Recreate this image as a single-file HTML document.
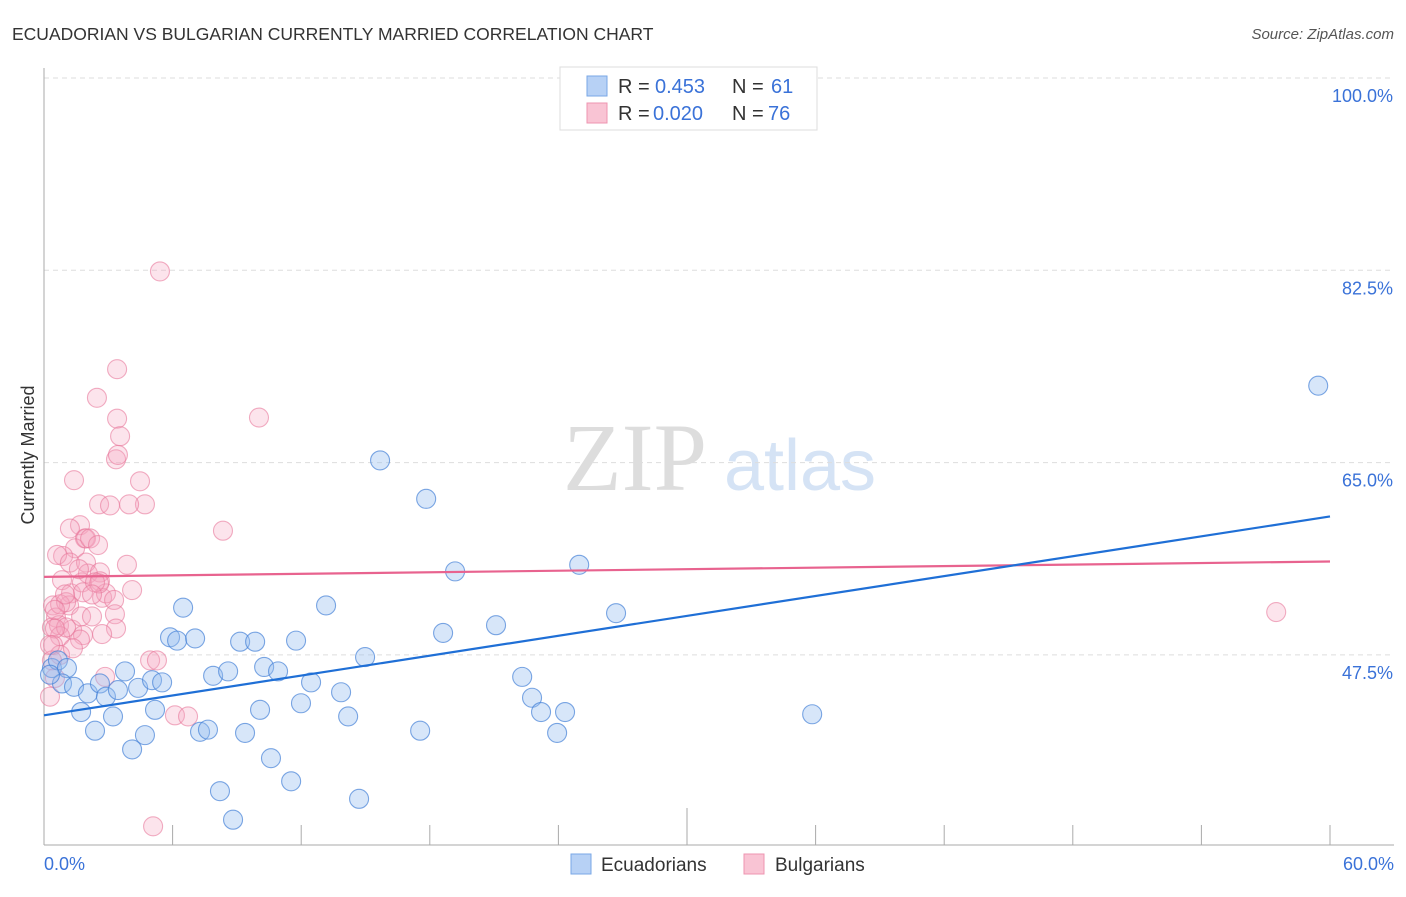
<!DOCTYPE html>
<html><head><meta charset="utf-8"><style>
body{margin:0;background:#fff;font-family:"Liberation Sans",sans-serif}
</style></head><body>
<svg id="c" width="1406" height="892" xmlns="http://www.w3.org/2000/svg">
<text x="12" y="40" font-size="17.5" fill="#333">ECUADORIAN VS BULGARIAN CURRENTLY MARRIED CORRELATION CHART</text>
<text x="1394" y="39" font-size="15" fill="#555" font-style="italic" text-anchor="end">Source: ZipAtlas.com</text>
<text x="34" y="455" font-size="18" fill="#333" text-anchor="middle" transform="rotate(-90 34 455)">Currently Married</text>
<g><text x="635" y="490" font-size="96" fill="#ddd" font-family="Liberation Serif" text-anchor="middle">ZIP</text><text x="800" y="490" font-size="72" fill="#d5e3f5" text-anchor="middle">atlas</text></g>
<g id="grid"></g><g id="axes"></g><g id="lines"></g><g id="pts"></g>
<g>
<rect x="560" y="67" width="257" height="63" fill="#fff" stroke="#ddd"/>
<rect x="587" y="76" width="20" height="20" fill="#b7d1f5" stroke="#7aa7e6"/>
<rect x="587" y="103" width="20" height="20" fill="#f9c4d4" stroke="#ee94b0"/>
<text x="618" y="93" font-size="20" fill="#333">R =</text><text x="655" y="93" font-size="20" fill="#3a72d8">0.453</text>
<text x="732" y="93" font-size="20" fill="#333">N =</text><text x="771" y="93" font-size="20" fill="#3a72d8">61</text>
<text x="618" y="120" font-size="20" fill="#333">R =</text><text x="653" y="120" font-size="20" fill="#3a72d8">0.020</text>
<text x="732" y="120" font-size="20" fill="#333">N =</text><text x="768" y="120" font-size="20" fill="#3a72d8">76</text>
</g>
<g>
<rect x="571" y="854" width="20" height="20" fill="#b7d1f5" stroke="#7aa7e6"/>
<text x="601" y="871" font-size="19" fill="#333">Ecuadorians</text>
<rect x="744" y="854" width="20" height="20" fill="#f9c4d4" stroke="#ee94b0"/>
<text x="775" y="871" font-size="19" fill="#333">Bulgarians</text>
</g>
</svg>
<script>
const yTicks=[100,82.5,65,47.5];
const yTickLabels=["100.0%","82.5%","65.0%","47.5%"];
const xTickCount=10;
const blueX=[0.37,0.65,1.07,0.84,1.40,1.73,2.05,2.38,2.61,2.89,3.22,3.45,3.78,4.11,4.39,4.71,5.04,5.18,5.51,5.88,6.21,6.49,7.05,7.28,7.65,7.89,8.21,8.59,8.82,9.15,9.38,9.85,10.08,10.27,10.59,10.92,11.53,11.76,11.99,12.46,13.16,13.86,14.19,14.70,14.98,15.68,17.55,17.83,18.62,19.18,21.09,22.31,22.77,23.19,23.94,24.31,24.97,26.69,35.84,59.45,0.28];
const blueY=[46.3,47.0,46.3,44.9,44.6,42.3,44.0,40.6,44.9,43.7,41.9,44.3,46.0,38.9,44.5,40.2,45.2,42.5,45.0,49.1,48.8,51.8,49.0,40.5,40.7,45.6,35.1,46.0,32.5,48.7,40.4,48.7,42.5,46.4,38.1,46.0,36.0,48.8,43.1,45.0,52.0,44.1,41.9,34.4,47.3,65.2,40.6,61.7,49.5,55.1,50.2,45.5,43.6,42.3,40.4,42.3,55.7,51.3,42.1,72.0,45.7];
const pinkX=[3.41,2.47,3.41,3.55,3.36,3.45,1.40,4.48,2.57,4.71,3.97,1.68,1.21,1.91,1.45,1.96,2.15,0.89,0.61,1.21,1.96,0.84,2.05,2.61,3.87,1.26,1.77,2.61,4.11,1.17,0.42,0.56,1.82,2.71,2.89,0.37,0.70,1.31,1.73,2.24,3.27,3.31,0.75,1.03,0.51,3.36,2.71,1.82,0.42,0.75,0.37,0.51,0.28,2.85,4.95,5.27,6.11,6.72,5.09,5.41,10.03,8.35,57.49,0.75,1.03,2.57,2.38,1.63,1.68,1.35,3.08,0.98,2.24,2.52,0.51,0.28];
const pinkY=[73.5,70.9,69.0,67.4,65.3,65.7,63.4,63.3,61.2,61.2,61.2,59.3,59.0,58.1,57.2,58.1,58.1,56.5,56.6,55.9,55.9,54.3,54.9,55.0,55.7,53.1,54.1,54.2,53.4,52.0,52.0,50.9,53.2,52.7,53.1,50.0,50.2,49.8,51.0,51.0,52.5,51.2,49.2,50.0,49.9,49.9,49.4,49.3,48.4,47.5,47.0,45.4,43.7,45.5,47.0,47.0,42.0,41.9,31.9,82.4,69.1,58.8,51.4,52.1,52.3,54.0,54.1,55.3,48.9,48.1,61.1,53.0,53.0,57.5,51.6,48.4];
const blueTrend=[42.0,60.1];
const pinkTrend=[54.6,56.0];
const NS="http://www.w3.org/2000/svg";
const X=v=>44+v*(1286/60), Y=v=>78+(100-v)*(192.3/17.5);
function mk(t,a,p){const e=document.createElementNS(NS,t);for(const k in a)e.setAttribute(k,a[k]);p.appendChild(e);return e;}
const grid=document.getElementById('grid'),axes=document.getElementById('axes'),lines=document.getElementById('lines'),pts=document.getElementById('pts');
yTicks.forEach((v,i)=>{
 const l=mk('line',{x1:44,x2:1394,y1:Y(v),y2:Y(v),stroke:'#ddd','stroke-dasharray':'5,4'},grid);
 
 
 const t=mk('text',{x:1393,y:Y(v)+24,'font-size':18,fill:'#3a72d8','text-anchor':'end'},axes);
 t.textContent=yTickLabels[i];
 
 
});
let a=mk('line',{x1:44,x2:44,y1:68,y2:845,stroke:'#aaa'},axes);


a=mk('line',{x1:44,x2:1394,y1:845,y2:845,stroke:'#aaa'},axes);


for(let i=1;i<=xTickCount;i++){
 const x=X(i*6);
 const tk=mk('line',{x1:x,x2:x,y1:i==5?808:825,y2:845,stroke:'#aaa'},axes);
 
 
}
let t=mk('text',{x:44,y:870,'font-size':18,fill:'#3a72d8'},axes);t.textContent='0.0%';


t=mk('text',{x:1394,y:870,'font-size':18,fill:'#3a72d8','text-anchor':'end'},axes);t.textContent='60.0%';


function series(xs,ys,fill,stroke,name){
 xs.forEach((x,i)=>{
  const c=mk('circle',{cx:X(x),cy:Y(ys[i]),r:9.5,fill:fill,stroke:stroke,'stroke-width':1.1},pts);
  
  
 });
}
series(pinkX,pinkY,'rgba(244,165,192,0.3)','rgba(232,120,155,0.6)','bulgarian-point');
series(blueX,blueY,'rgba(150,190,240,0.38)','rgba(70,130,215,0.7)','ecuadorian-point');
let ln=mk('line',{x1:X(0),x2:X(60),y1:Y(pinkTrend[0]),y2:Y(pinkTrend[1]),stroke:'#e8638f','stroke-width':2.2},lines);


ln=mk('line',{x1:X(0),x2:X(60),y1:Y(blueTrend[0]),y2:Y(blueTrend[1]),stroke:'#1f6fd6','stroke-width':2.2},lines);


document.getElementById('c').appendChild(lines);
</script>
</body></html>
